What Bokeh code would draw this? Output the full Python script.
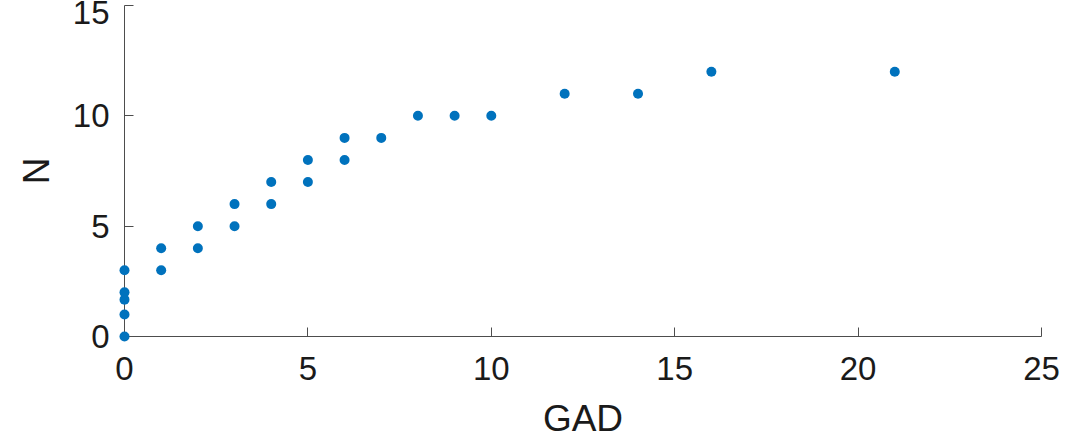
from bokeh.plotting import figure
from bokeh.models import ColumnDataSource, Range1d, FixedTicker
from bokeh.embed import file_html
from bokeh.resources import INLINE

gad = [0, 0, 0, 0, 0, 1, 1, 2, 2, 3, 3, 4, 4, 5, 5, 6, 6, 7, 8, 9, 10, 12, 14, 16, 21]
n_vals = [0, 1, 1.67, 2, 3, 4, 3, 5, 4, 6, 5, 7, 6, 8, 7, 9, 8, 9, 10, 10, 10, 11, 11, 12, 12]
x_ticks = [0, 5, 10, 15, 20, 25]
y_ticks = [0, 5, 10, 15]

FONT = "Liberation Sans"
AXIS_COLOR = "#4d4d4d"

p = figure(width=1083, height=442, output_backend="svg", toolbar_location=None,
           x_range=Range1d(0, 25), y_range=Range1d(0, 15),
           min_border_left=124, min_border_right=42, min_border_top=5, min_border_bottom=106)
p.outline_line_color = None
p.xgrid.grid_line_color = None
p.ygrid.grid_line_color = None

src = ColumnDataSource(dict(x=gad, y=n_vals))
r = p.scatter("x", "y", source=src, size=10, color="#0072BD", line_color=None)
r.level = "overlay"

for ax in (p.xaxis[0], p.yaxis[0]):
    ax.axis_line_color = AXIS_COLOR
    ax.axis_line_width = 1
    ax.major_tick_line_color = AXIS_COLOR
    ax.major_tick_in = 9
    ax.major_tick_out = 0
    ax.minor_tick_line_color = None
    ax.major_label_text_font = FONT
    ax.major_label_text_font_size = "33px"
    ax.major_label_text_color = "#1a1a1a"
    ax.axis_label_text_font = FONT
    ax.axis_label_text_font_size = "37px"
    ax.axis_label_text_font_style = "normal"
    ax.axis_label_text_color = "#1a1a1a"

p.xaxis[0].ticker = FixedTicker(ticks=x_ticks)
p.yaxis[0].ticker = FixedTicker(ticks=y_ticks)
p.xaxis[0].axis_label = "GAD"
p.yaxis[0].axis_label = "N"
p.xaxis[0].major_label_standoff = 20
p.xaxis[0].axis_label_standoff = 15
p.yaxis[0].major_label_standoff = 15
p.yaxis[0].axis_label_standoff = 13

open("out.html", "w").write(file_html(p, INLINE))
